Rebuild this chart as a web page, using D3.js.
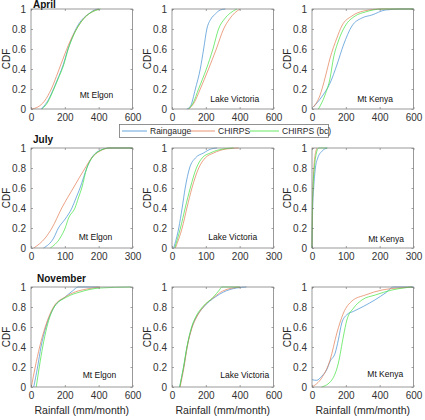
<!DOCTYPE html>
<html><head><meta charset="utf-8">
<script src="https://d3js.org/d3.v7.min.js"></script>
<style>body{margin:0;background:#fff}svg{display:block}text{font-family:"Liberation Sans",Arial,sans-serif}</style>
</head><body><svg id="c" width="425" height="420"></svg>
<script>
const months = ["April", "July", "November"];
const sites = ["Mt Elgon", "Lake Victoria", "Mt Kenya"];
const seriesNames = ["Raingauge", "CHIRPS", "CHIRPS (bc)"];
const xMaxByMonth = [600, 300, 600];
const xTicksByMonth = [[0,200,400,600],[0,100,200,300],[0,200,400,600]];
const yTicks = [0,0.2,0.4,0.6,0.8,1];

// CDF curves as [rainfall, cdf]
const aprElgonRain = [[60,0],[95,0.07],[125,0.17],[155,0.29],[190,0.44],[215,0.58],[245,0.72],[275,0.83],[305,0.9],[340,0.95],[375,0.99],[400,1]];
const aprElgonChirps = [[0,0],[40,0.02],[80,0.08],[120,0.2],[160,0.37],[200,0.55],[240,0.71],[280,0.83],[320,0.92],[360,0.97],[400,1]];
const aprElgonBc = [[65,0],[100,0.07],[130,0.18],[160,0.3],[195,0.45],[220,0.6],[250,0.73],[280,0.83],[310,0.9],[350,0.96],[390,0.99],[410,1]];

const aprVicRain = [[88,0],[110,0.03],[138,0.2],[167,0.4],[187,0.6],[206,0.8],[230,0.9],[256,0.95],[285,0.99],[315,1]];
const aprVicChirps = [[98,0],[130,0.06],[167,0.2],[216,0.4],[262,0.6],[305,0.8],[340,0.9],[370,0.96],[403,1]];
const aprVicBc = [[98,0],[125,0.06],[157,0.2],[203,0.4],[242,0.6],[275,0.8],[310,0.9],[345,0.96],[384,1]];

const aprKenRain = [[8,0.02],[57,0.12],[107,0.26],[147,0.44],[186,0.64],[236,0.83],[295,0.91],[354,0.94],[434,0.99],[533,1],[600,1]];
const aprKenChirps = [[8,0.02],[48,0.14],[77,0.31],[107,0.51],[147,0.71],[176,0.83],[236,0.93],[305,0.98],[414,1],[600,1]];
const aprKenBc = [[38,0],[77,0.14],[107,0.31],[127,0.51],[156,0.68],[196,0.83],[255,0.93],[315,0.97],[414,1],[600,1]];

const julElgonRain = [[37,0],[67,0.1],[81,0.2],[101,0.29],[121,0.4],[133,0.5],[145,0.6],[165,0.8],[179,0.9],[200,0.97],[233,1],[300,1]];
const julElgonChirps = [[8,0],[42,0.1],[62,0.2],[91,0.4],[125,0.6],[160,0.8],[179,0.9],[204,0.97],[233,1],[300,1]];
const julElgonBc = [[57,0],[86,0.1],[101,0.2],[111,0.3],[130,0.4],[140,0.5],[150,0.6],[165,0.8],[180,0.9],[202,0.97],[233,1],[300,1]];

const julVicRain = [[5,0],[20,0.2],[30,0.4],[39,0.6],[52,0.8],[69,0.9],[93,0.95],[115,0.99],[133,1]];
const julVicChirps = [[10,0],[30,0.2],[44,0.4],[59,0.6],[79,0.8],[98,0.9],[123,0.95],[160,0.99],[197,1]];
const julVicBc = [[8,0],[25,0.2],[39,0.4],[54,0.6],[72,0.8],[89,0.9],[113,0.95],[150,0.99],[182,1]];

const julKenRain = [[0,0],[2,0.4],[5,0.6],[10,0.8],[17,0.9],[30,0.97],[45,1]];
const julKenChirps = [[0,0],[2,0.5],[4,0.7],[8,0.9],[15,1]];
const julKenBc = [[0,0],[1,0.4],[3,0.6],[7,0.8],[13,0.95],[20,1],[45,1]];

const novElgonRain = [[16,0],[39,0.2],[59,0.4],[88,0.6],[137,0.8],[202,0.9],[245,0.96],[280,1],[400,1]];
const novElgonChirps = [[2,0],[25,0.2],[51,0.4],[84,0.6],[133,0.8],[202,0.9],[261,0.95],[330,0.98],[408,1]];
const novElgonBc = [[31,0],[49,0.2],[69,0.4],[94,0.6],[137,0.8],[212,0.9],[290,0.95],[408,0.99],[590,1]];

const novVicRain = [[45,0],[69,0.2],[89,0.4],[118,0.6],[144,0.7],[187,0.8],[256,0.9],[305,0.95],[380,0.99],[440,1]];
const novVicChirps = [[48,0],[71,0.2],[90,0.4],[120,0.6],[146,0.7],[185,0.8],[250,0.9],[300,0.96],[400,1]];
const novVicBc = [[45,0],[68,0.2],[88,0.4],[116,0.6],[140,0.7],[180,0.8],[245,0.9],[280,0.97],[295,1],[400,1]];

const novKenRain = [[0,0.073],[28,0.067],[57,0.107],[87,0.173],[107,0.257],[137,0.34],[156,0.473],[176,0.64],[206,0.723],[246,0.757],[305,0.807],[374,0.873],[434,0.94],[483,1],[600,1]];
const novKenChirps = [[0,0],[57,0.09],[107,0.27],[147,0.54],[186,0.74],[236,0.86],[315,0.92],[414,0.97],[513,0.99],[592,1]];
const novKenBc = [[57,0],[117,0.07],[156,0.24],[186,0.51],[206,0.67],[246,0.79],[295,0.87],[374,0.92],[473,0.97],[592,1]];

const panels = [
  [[aprElgonRain,aprElgonChirps,aprElgonBc],[aprVicRain,aprVicChirps,aprVicBc],[aprKenRain,aprKenChirps,aprKenBc]],
  [[julElgonRain,julElgonChirps,julElgonBc],[julVicRain,julVicChirps,julVicBc],[julKenRain,julKenChirps,julKenBc]],
  [[novElgonRain,novElgonChirps,novElgonBc],[novVicRain,novVicChirps,novVicBc],[novKenRain,novKenChirps,novKenBc]]
];

// label anchor positions in data units [x, y] (layout, not data)
const labelPos = [
  [[288,0.11],[226,0.07],[267,0.07]],
  [[141,0.08],[107,0.08],[166,0.06]],
  [[306,0.09],[285,0.09],[327,0.10]]
];

const colors = ["#3f8ed2","#e27b52","#3fe23f"];
const colLeft = [31, 172, 312];
const rowTop = [9, 148, 287];
const W = 101.5, H = 100;

const svg = d3.select("#c");

months.forEach((m, r) => {
  svg.append("text").attr("x", colLeft[0] + 2 + (r===2?4:0)).attr("y", r === 0 ? 8 : rowTop[r] - 5)
    .attr("font-size", 10).attr("font-weight", "bold").attr("fill", "#111").text(m);
  sites.forEach((s, c) => {
    const x = d3.scaleLinear().domain([0, xMaxByMonth[r]]).range([0, W]);
    const y = d3.scaleLinear().domain([0, 1]).range([H, 0]);
    const g = svg.append("g").attr("transform", `translate(${colLeft[c]},${rowTop[r]})`);

    const line = d3.line().x(d => x(d[0])).y(d => y(d[1])).curve(d3.curveMonotoneX);
    panels[r][c].forEach((ser, k) => {
      g.append("path").datum(ser).attr("d", line).attr("fill", "none")
        .attr("stroke", colors[k]).attr("stroke-width", 0.7);
    });

    g.append("g").attr("transform", `translate(0,${H})`)
      .call(d3.axisBottom(x).tickValues(xTicksByMonth[r]).tickSize(-2).tickPadding(5));
    g.append("g")
      .call(d3.axisLeft(y).tickValues(yTicks).tickSize(-2).tickPadding(5).tickFormat(d3.format("~g")));
    g.append("g")
      .call(d3.axisTop(x).tickValues(xTicksByMonth[r]).tickSize(-2).tickFormat(""));
    g.append("g").attr("transform", `translate(${W},0)`)
      .call(d3.axisRight(y).tickValues(yTicks).tickSize(-2).tickFormat(""));
    g.selectAll(".domain").remove();
    g.selectAll(".tick line").attr("stroke", "#666").attr("stroke-width", 0.6);
    g.selectAll(".tick text").attr("font-size", 10).attr("fill", "#333")
      .attr("font-family", '"Liberation Sans",Arial,sans-serif');
    g.append("rect").attr("x", 0).attr("y", 0).attr("width", W).attr("height", H)
      .attr("fill", "none").attr("stroke", "#808080").attr("stroke-width", 0.8);

    g.append("text").attr("x", x(labelPos[r][c][0])).attr("y", y(labelPos[r][c][1]))
      .attr("font-size", 8.5).attr("fill", "#111").text(s);

    g.append("text").attr("transform", `translate(${-21},${H/2}) rotate(-90)`)
      .attr("text-anchor", "middle").attr("font-size", 10).attr("fill", "#262626").text("CDF");

    if (r === 2) {
      g.append("text").attr("x", W/2).attr("y", H + 27).attr("text-anchor", "middle")
        .attr("font-size", 10.5).attr("fill", "#262626").text("Rainfall (mm/month)");
    }
  });
});

// legend
const leg = svg.append("g");
leg.append("rect").attr("x", 119.5).attr("y", 124.5).attr("width", 209).attr("height", 13)
  .attr("fill", "#fff").attr("stroke", "#777").attr("stroke-width", 0.8);
const legItems = [[122,150],[190,218],[250,282]];
seriesNames.forEach((n, k) => {
  leg.append("line").attr("x1", legItems[k][0]).attr("x2", legItems[k][1] - 3)
    .attr("y1", 131).attr("y2", 131).attr("stroke", colors[k]).attr("stroke-width", 0.8);
  leg.append("text").attr("x", legItems[k][1]).attr("y", 134).attr("font-size", 8.5)
    .attr("fill", "#262626").text(n);
});
</script></body></html>
